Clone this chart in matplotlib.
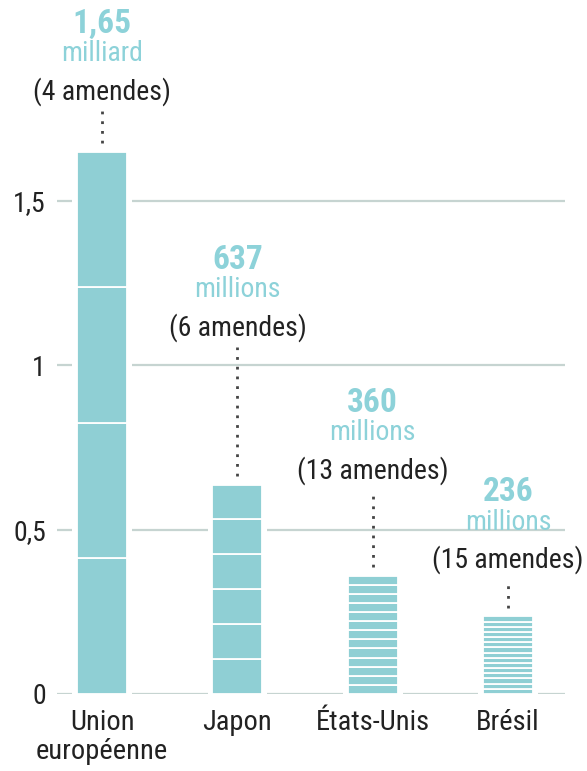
import matplotlib.pyplot as plt
from matplotlib import font_manager

# amendes infligées (en milliards d'euros)
pays = ["Union\neuropéenne", "Japon", "États-Unis", "Brésil"]
montants = [1.65, 0.637, 0.360, 0.236]
nb_amendes = [4, 6, 13, 15]
montant_txt = ["1,65", "637", "360", "236"]
unite_txt = ["milliard", "millions", "millions", "millions"]
yticks = [0, 0.5, 1, 1.5]
ytick_labels = ["0", "0,5", "1", "1,5"]

# hauteur des étiquettes au-dessus des barres (mise en page)
label_y = [1.832, 1.114, 0.679, 0.408]

bar_color = "#8fcfd4"
txt_color = "#8dd2d9"
grid_color = "#c6d4d1"
dark = "#222222"

# police étroite si dispo
names = {f.name for f in font_manager.fontManager.ttflist}
fam = "DejaVu Sans"
for cand in ["Roboto Condensed", "Archivo Narrow", "PT Sans Narrow", "Liberation Sans Narrow"]:
    if cand in names:
        fam = cand
        break
plt.rcParams["font.family"] = [fam, "DejaVu Sans"]

fig = plt.figure(figsize=(5.87, 7.71), dpi=100)
ax = fig.add_axes([57 / 587, 77 / 771, 508 / 587, 694 / 771])
ax.set_xlim(-0.333, 3.42)
ax.set_ylim(0, 2.111)

for y in yticks:
    ax.axhline(y, color=grid_color, lw=1.6, zorder=1)

w = 0.37
for i, (v, n) in enumerate(zip(montants, nb_amendes)):
    # halo blanc qui coupe les lignes de grille
    ax.bar(i, v, width=w + 0.07, color="white", zorder=2)
    seg = v / n
    ax.bar([i] * n, [seg] * n, bottom=[k * seg for k in range(n)], width=w,
           color=bar_color, edgecolor="white", linewidth=1.3, zorder=3)
    ly = label_y[i]
    ax.text(i, ly, f"({n} amendes)", ha="center", va="center",
            fontsize=20, color=dark, zorder=4)
    ax.text(i, ly + 0.115, unite_txt[i], ha="center", va="center",
            fontsize=20, color=txt_color, zorder=4)
    ax.text(i, ly + 0.207, montant_txt[i], ha="center", va="center",
            fontsize=24, fontweight="bold", color=txt_color, zorder=4)
    ax.plot([i, i], [v + 0.025, ly - 0.06], ls=(0, (1, 2.5)), lw=2,
            color="#444444", zorder=4)

ax.set_xticks(range(len(pays)))
ax.set_xticklabels(pays, fontsize=20.5, color=dark, linespacing=1.08, va="top")
ax.set_yticks(yticks)
ax.set_yticklabels(ytick_labels, fontsize=20, color=dark)
ax.tick_params(length=0)
ax.tick_params(axis="y", pad=8)
ax.tick_params(axis="x", pad=11)
for s in ax.spines.values():
    s.set_visible(False)

fig.savefig("out.png", dpi=100)
